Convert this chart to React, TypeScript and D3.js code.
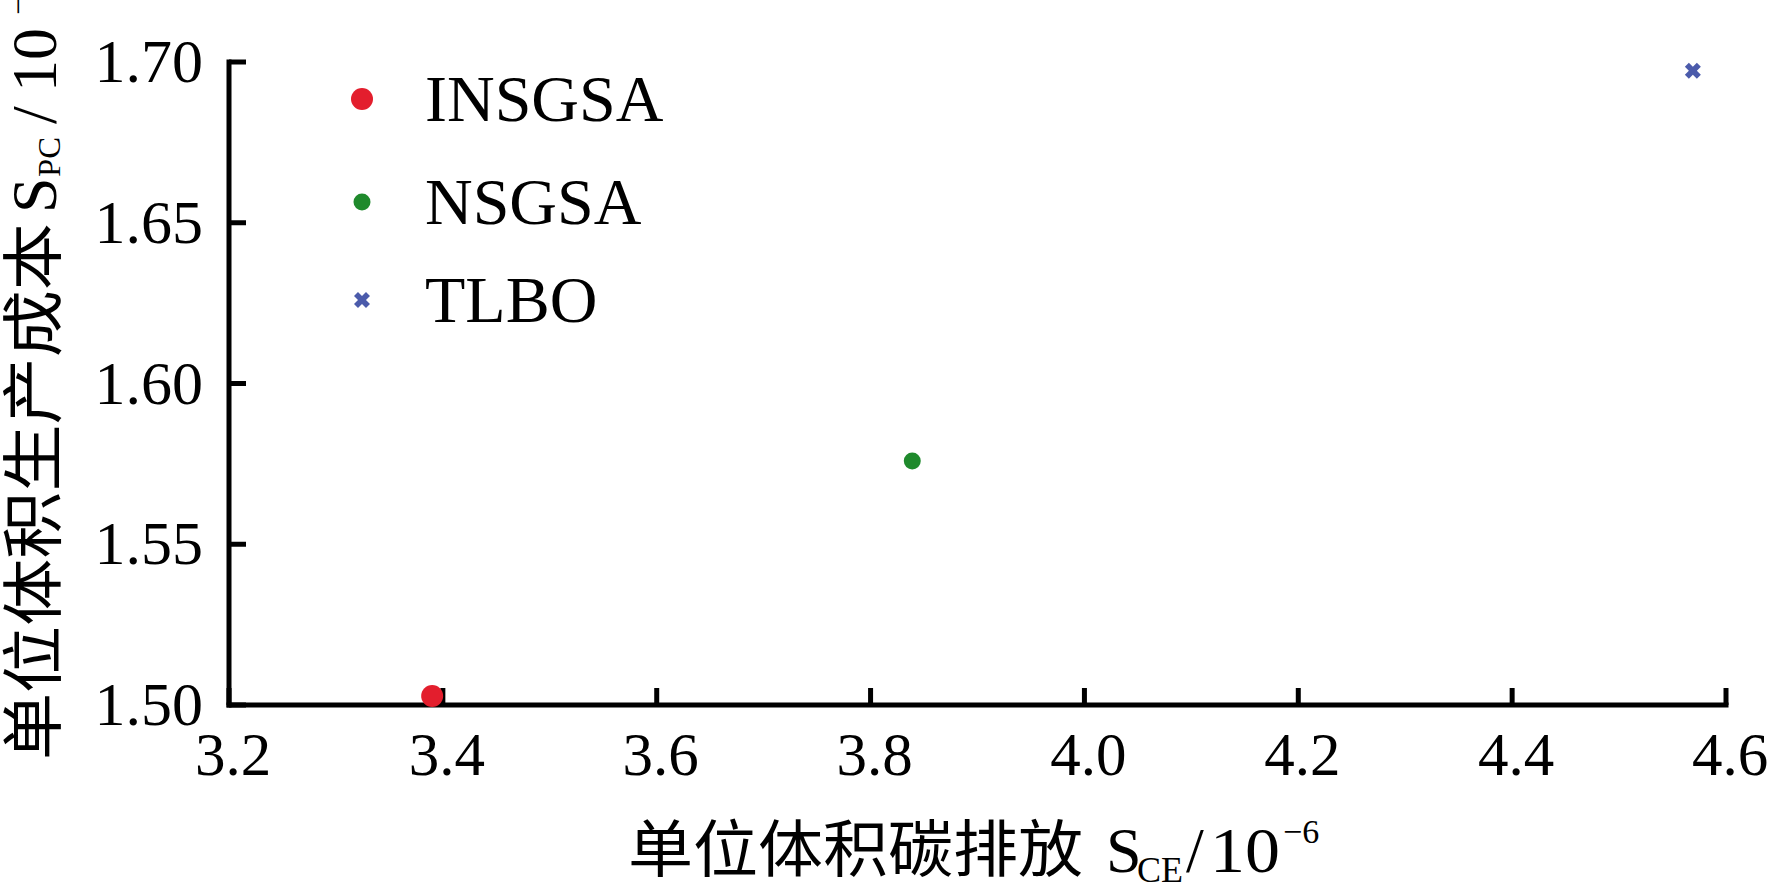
import React from "react";
import * as d3 from "d3";

const xTicks = [3.2, 3.4, 3.6, 3.8, 4.0, 4.2, 4.4, 4.6];
const yTicks = [1.5, 1.55, 1.6, 1.65, 1.7];
const xTickLabels = ["3.2", "3.4", "3.6", "3.8", "4.0", "4.2", "4.4", "4.6"];
const yTickLabels = ["1.50", "1.55", "1.60", "1.65", "1.70"];

const seriesNames = ["INSGSA", "NSGSA", "TLBO"];
const seriesX = [3.39, 3.839, 4.569];
const seriesY = [1.5028, 1.5759, 1.6973];
const seriesColors = ["#e31e2d", "#1f8a2c", "#4b5bab"];

const W = 1767;
const H = 886;
const SERIF = "'Liberation Serif', 'Times New Roman', serif";
const CJK = "'Noto Sans CJK SC', sans-serif";

function Marker({ i, cx, cy }: { i: number; cx: number; cy: number }) {
  const c = seriesColors[i];
  if (i === 0) return <circle cx={cx} cy={cy} r={11} fill={c} />;
  if (i === 1) {
    const p = d3.symbol().type(d3.symbolCircle).size(Math.PI * 72)();
    return <path d={p || ""} transform={`translate(${cx},${cy})`} fill={c} />;
  }
  const p = d3.symbol().type(d3.symbolCross).size(160)();
  return <path d={p || ""} transform={`translate(${cx},${cy}) rotate(45)`} fill={c} />;
}

export default function App() {
  const x = d3.scaleLinear().domain([3.2, 4.6]).range([229, 1726]);
  const y = d3.scaleLinear().domain([1.5, 1.7]).range([705, 62]);
  const axisW = 5;
  const tickLen = 17;

  const legendY = [99, 202, 300];

  return (
    <svg
      width={W}
      height={H}
      style={{ position: "absolute", left: 0, top: 0, background: "#fff" }}
    >
      <rect x={0} y={0} width={W} height={H} fill="#fff" />
      {/* axes */}
      <line x1={x(3.2)} x2={x(3.2)} y1={y(1.7)} y2={y(1.5)} stroke="#000" strokeWidth={axisW} strokeLinecap="square" />
      <line x1={x(3.2)} x2={x(4.6)} y1={y(1.5)} y2={y(1.5)} stroke="#000" strokeWidth={axisW} strokeLinecap="square" />
      {xTicks.map((t) => (
        <line key={"xt" + t} x1={x(t)} x2={x(t)} y1={y(1.5)} y2={y(1.5) - tickLen} stroke="#000" strokeWidth={axisW} />
      ))}
      {yTicks.map((t) => (
        <line key={"yt" + t} x1={x(3.2)} x2={x(3.2) + tickLen} y1={y(t)} y2={y(t)} stroke="#000" strokeWidth={axisW} />
      ))}
      {xTicks.map((t, i) => (
        <text key={"xl" + t} x={x(t) + 4} y={775} textAnchor="middle" fontFamily={SERIF} fontSize={61} fill="#000">
          {xTickLabels[i]}
        </text>
      ))}
      {yTicks.map((t, i) => (
        <text key={"yl" + t} x={203} y={y(t) + 20} textAnchor="end" fontFamily={SERIF} fontSize={62} fill="#000">
          {yTickLabels[i]}
        </text>
      ))}

      {/* data points */}
      {seriesNames.map((n, i) => (
        <Marker key={"pt" + n} i={i} cx={x(seriesX[i])} cy={y(seriesY[i])} />
      ))}

      {/* legend */}
      {seriesNames.map((n, i) => (
        <g key={"lg" + n}>
          <Marker i={i} cx={362} cy={legendY[i]} />
          <text x={425} y={legendY[i] + 22} fontFamily={SERIF} fontSize={66} fill="#000">
            {n}
          </text>
        </g>
      ))}

      {/* x title */}
      <g fill="#000">
        <text x={628} y={872} fontFamily={CJK} fontSize={62} textLength={455} lengthAdjust="spacingAndGlyphs">
          单位体积碳排放
        </text>
        <text x={1106} y={872} fontFamily={SERIF} fontSize={64}>S</text>
        <text x={1137} y={882} fontFamily={SERIF} fontSize={36}>CE</text>
        <text x={1186} y={872} fontFamily={SERIF} fontSize={64}>/</text>
        <text x={1210} y={872} fontFamily={SERIF} fontSize={64} textLength={70} lengthAdjust="spacingAndGlyphs">10</text>
        <text x={1283} y={843} fontFamily={SERIF} fontSize={34}>−6</text>
      </g>

      {/* y title */}
      <g transform="translate(56,760) rotate(-90)" fill="#000">
        <text x={0} y={0} fontFamily={CJK} fontSize={62} textLength={537} lengthAdjust="spacingAndGlyphs">
          单位体积生产成本
        </text>
        <text x={547} y={0} fontFamily={SERIF} fontSize={64}>S</text>
        <text x={583} y={4} fontFamily={SERIF} fontSize={32} textLength={40} lengthAdjust="spacingAndGlyphs">PC</text>
        <text x={636} y={0} fontFamily={SERIF} fontSize={64}>/</text>
        <text x={668} y={0} fontFamily={SERIF} fontSize={64}>10</text>
        <text x={745} y={-27} fontFamily={SERIF} fontSize={32}>−3</text>
      </g>
    </svg>
  );
}
